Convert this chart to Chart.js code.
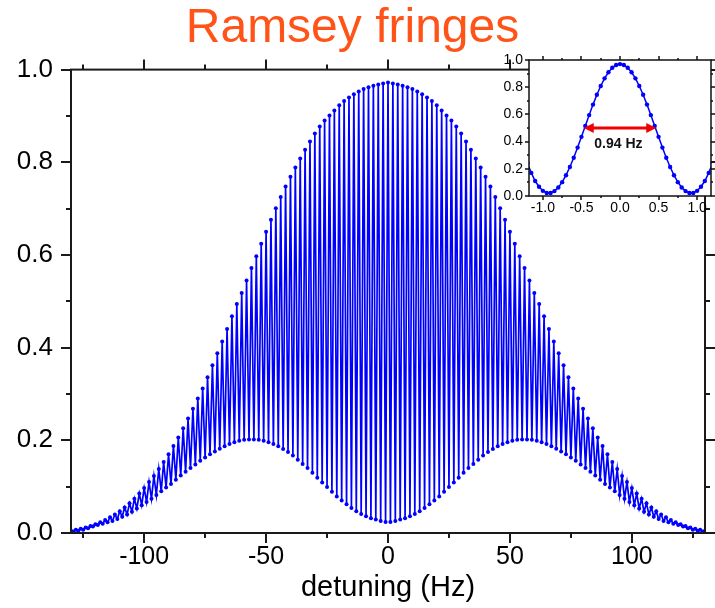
<!DOCTYPE html>
<html>
<head>
<meta charset="utf-8">
<title>Ramsey fringes</title>
<script src="https://cdn.jsdelivr.net/npm/chart.js@4.4.1/dist/chart.umd.min.js"></script>
<style>
  html, body { margin: 0; padding: 0; background: #fff; }
  #wrap { position: relative; width: 715px; height: 608px; }
  #main { position: absolute; left: 0; top: 0; }
  #inset { position: absolute; left: 490px; top: 45px; }
</style>
</head>
<body>
<div id="wrap">
  <canvas id="main" width="715" height="608"></canvas>
  <canvas id="inset" width="225" height="175"></canvas>
</div>
<script>
// main plot: fringe maxima every 2 Hz from -130 Hz, minima at the odd Hz in between
const peakStart = -130;
const peakLevels = [
  0.005, 0.007, 0.009, 0.012, 0.015, 0.019, 0.023, 0.028, 0.034, 0.040,
  0.047, 0.055, 0.064, 0.074, 0.085, 0.097, 0.110, 0.123, 0.138, 0.153,
  0.170, 0.188, 0.206, 0.226, 0.247, 0.268, 0.290, 0.312, 0.336, 0.362,
  0.388, 0.413, 0.440, 0.468, 0.494, 0.518, 0.545, 0.572, 0.597, 0.624,
  0.650, 0.676, 0.701, 0.725, 0.748, 0.769, 0.789, 0.808, 0.827, 0.845,
  0.862, 0.877, 0.890, 0.901, 0.912, 0.923, 0.932, 0.940, 0.947, 0.953,
  0.958, 0.962, 0.965, 0.968, 0.970,
  0.972,
  0.970, 0.968, 0.965, 0.962, 0.958, 0.953, 0.947, 0.940, 0.932, 0.923,
  0.912, 0.901, 0.890, 0.877, 0.862, 0.845, 0.827, 0.808, 0.789, 0.769,
  0.748, 0.725, 0.701, 0.676, 0.650, 0.624, 0.597, 0.572, 0.545, 0.518,
  0.494, 0.468, 0.440, 0.413, 0.388, 0.362, 0.336, 0.312, 0.290, 0.268,
  0.247, 0.226, 0.206, 0.188, 0.170, 0.153, 0.138, 0.123, 0.110, 0.097,
  0.085, 0.074, 0.064, 0.055, 0.047, 0.040, 0.034, 0.028, 0.023, 0.019,
  0.015, 0.012, 0.009, 0.007, 0.005
];
const troughLevels = [
  0.003, 0.005, 0.007, 0.010, 0.014, 0.017, 0.020, 0.023, 0.026, 0.030,
  0.035, 0.040, 0.046, 0.053, 0.060, 0.067, 0.074, 0.082, 0.090, 0.098,
  0.106, 0.115, 0.124, 0.132, 0.140, 0.148, 0.156, 0.163, 0.170, 0.176,
  0.182, 0.187, 0.192, 0.196, 0.199, 0.201, 0.202, 0.202, 0.201, 0.199,
  0.196, 0.192, 0.187, 0.181, 0.175, 0.167, 0.158, 0.149, 0.140, 0.130,
  0.119, 0.109, 0.099, 0.089, 0.079, 0.070, 0.062, 0.054, 0.047, 0.041,
  0.036, 0.032, 0.029, 0.026, 0.024,
  0.024, 0.026, 0.029, 0.032, 0.036, 0.041, 0.047, 0.054, 0.062, 0.070,
  0.079, 0.089, 0.099, 0.109, 0.119, 0.130, 0.140, 0.149, 0.158, 0.167,
  0.175, 0.181, 0.187, 0.192, 0.196, 0.199, 0.201, 0.202, 0.202, 0.201,
  0.199, 0.196, 0.192, 0.187, 0.182, 0.176, 0.170, 0.163, 0.156, 0.148,
  0.140, 0.132, 0.124, 0.115, 0.106, 0.098, 0.090, 0.082, 0.074, 0.067,
  0.060, 0.053, 0.046, 0.040, 0.035, 0.030, 0.026, 0.023, 0.020, 0.017,
  0.014, 0.010, 0.007, 0.005, 0.003
];
const xTicks = [-100, -50, 0, 50, 100];
const xMinorTicks = [-125, -75, -25, 25, 75, 125];
const yTicks = [0, 0.2, 0.4, 0.6, 0.8, 1.0];
const yMinorTicks = [0.1, 0.3, 0.5, 0.7, 0.9];

// inset: central fringe, one point every 0.05 Hz from -1.2 Hz
const insetStart = -1.2;
const insetLevels = [
  0.24, 0.17, 0.11, 0.068, 0.038, 0.022, 0.022, 0.036, 0.063, 0.102,
  0.153, 0.213, 0.281, 0.356, 0.435, 0.515, 0.595, 0.672, 0.744, 0.809,
  0.865, 0.910, 0.943, 0.963, 0.970, 0.963, 0.943, 0.910, 0.865, 0.809,
  0.744, 0.672, 0.595, 0.515, 0.435, 0.356, 0.281, 0.213, 0.153, 0.102,
  0.063, 0.036, 0.022, 0.022, 0.038, 0.068, 0.11, 0.17, 0.24
];
const insetXTicks = [-1, -0.5, 0, 0.5, 1];
const insetXMinor = [-0.75, -0.25, 0.25, 0.75];
const insetYTicks = [0, 0.2, 0.4, 0.6, 0.8, 1.0];
const insetYMinor = [0.1, 0.3, 0.5, 0.7, 0.9];
const fwhmEnds = [-0.47, 0.47];
const fwhmLevel = 0.5;
const fwhmLabel = '0.94 Hz';
const fwhmLabelAt = [-0.02, 0.38];

const blue = 'rgb(0,0,255)';
const font = '"Liberation Sans", Arial, Helvetica, sans-serif';

const fringePoints = [];
peakLevels.forEach((p, i) => {
  fringePoints.push({x: peakStart + 2 * i, y: p});
  if (i < troughLevels.length) fringePoints.push({x: peakStart + 2 * i + 1, y: troughLevels[i]});
});
const insetPoints = insetLevels.map((v, i) => ({x: +(insetStart + 0.05 * i).toFixed(2), y: v}));

// box round the plot, ticks pointing out on all four sides
const frameTicks = {
    id: 'frameTicks',
    afterDraw(chart, args, o) {
        const {ctx, chartArea: a, scales: {x, y}} = chart;
        ctx.save();
        ctx.strokeStyle = o.color;
        ctx.lineWidth = o.width;
        ctx.beginPath();
        const xt = (vals, len) => vals.forEach(v => {
            const px = Math.round(x.getPixelForValue(v));
            ctx.moveTo(px, a.bottom); ctx.lineTo(px, a.bottom + len);
            ctx.moveTo(px, a.top); ctx.lineTo(px, a.top - len);
        });
        const yt = (vals, len) => vals.forEach(v => {
            const py = Math.round(y.getPixelForValue(v));
            ctx.moveTo(a.left, py); ctx.lineTo(a.left - len, py);
            ctx.moveTo(a.right, py); ctx.lineTo(a.right + len, py);
        });
        xt(o.xMajor, o.major); xt(o.xMinor, o.minor);
        yt(o.yMajor, o.major); yt(o.yMinor, o.minor);
        ctx.stroke();
        ctx.strokeRect(a.left, a.top, a.right - a.left, a.bottom - a.top);
        ctx.restore();
    }
};

const whiteArea = {
    id: 'whiteArea',
    beforeDraw(chart) {
        const {ctx, chartArea: a} = chart;
        ctx.save();
        ctx.fillStyle = '#fff';
        ctx.fillRect(a.left, a.top, a.right - a.left, a.bottom - a.top);
        ctx.restore();
    }
};

const fwhmArrow = {
    id: 'fwhmArrow',
    afterDatasetsDraw(chart) {
        const {ctx, scales: {x, y}} = chart;
        const x0 = x.getPixelForValue(fwhmEnds[0]);
        const x1 = x.getPixelForValue(fwhmEnds[1]);
        const py = y.getPixelForValue(fwhmLevel);
        ctx.save();
        ctx.strokeStyle = 'rgb(240,0,0)';
        ctx.fillStyle = 'rgb(240,0,0)';
        ctx.lineWidth = 3;
        ctx.beginPath();
        ctx.moveTo(x0 + 6, py); ctx.lineTo(x1 - 6, py);
        ctx.stroke();
        ctx.beginPath();
        ctx.moveTo(x0, py); ctx.lineTo(x0 + 10, py - 5); ctx.lineTo(x0 + 10, py + 5); ctx.closePath();
        ctx.moveTo(x1, py); ctx.lineTo(x1 - 10, py - 5); ctx.lineTo(x1 - 10, py + 5); ctx.closePath();
        ctx.fill();
        ctx.fillStyle = '#111';
        ctx.font = 'bold 14px ' + font;
        ctx.textAlign = 'center';
        ctx.textBaseline = 'middle';
        ctx.fillText(fwhmLabel, x.getPixelForValue(fwhmLabelAt[0]), y.getPixelForValue(fwhmLabelAt[1]));
        ctx.restore();
    }
};

new Chart(document.getElementById('main'), {
    type: 'line',
    data: {
        datasets: [{
            data: fringePoints,
            borderColor: blue,
            backgroundColor: blue,
            borderWidth: 1.7,
            pointRadius: 2,
            pointBorderWidth: 0,
            tension: 0
        }]
    },
    options: {
        responsive: false,
        animation: false,
        devicePixelRatio: 1,
        layout: {padding: {left: 0, right: 10, top: 0, bottom: 0}},
        plugins: {
            legend: {display: false},
            tooltip: {enabled: false},
            title: {
                display: true,
                text: 'Ramsey fringes',
                color: '#FF5317',
                font: {family: font, size: 48, weight: 'normal'},
                padding: {top: 0, bottom: 12}
            },
            frameTicks: {
                color: '#1a1a1a', width: 2, major: 10, minor: 5,
                xMajor: xTicks, xMinor: xMinorTicks, yMajor: yTicks, yMinor: yMinorTicks
            }
        },
        scales: {
            x: {
                type: 'linear',
                min: -130,
                max: 130,
                grid: {display: false, drawTicks: false},
                border: {display: false},
                afterBuildTicks: s => { s.ticks = xTicks.map(v => ({value: v})); },
                afterFit: s => { s.height = 75; },
                ticks: {
                    color: '#000',
                    font: {family: font, size: 25},
                    padding: 9,
                    maxRotation: 0,
                    callback: v => String(v)
                },
                title: {
                    display: true,
                    text: 'detuning (Hz)',
                    color: '#000',
                    font: {family: font, size: 29},
                    padding: {top: 0, bottom: 3}
                }
            },
            y: {
                min: 0,
                max: 1,
                grid: {display: false, drawTicks: false},
                border: {display: false},
                afterBuildTicks: s => { s.ticks = yTicks.map(v => ({value: v})); },
                afterFit: s => { s.width = 71; },
                ticks: {
                    color: '#000',
                    font: {family: font, size: 26},
                    padding: 18,
                    callback: v => v.toFixed(1)
                }
            }
        }
    },
    plugins: [frameTicks]
});

new Chart(document.getElementById('inset'), {
    type: 'line',
    data: {
        datasets: [{
            data: insetPoints,
            borderColor: blue,
            backgroundColor: blue,
            borderWidth: 1.5,
            pointRadius: 2.2,
            pointBorderWidth: 0,
            tension: 0
        }]
    },
    options: {
        responsive: false,
        animation: false,
        devicePixelRatio: 1,
        layout: {padding: {left: 0, right: 2, top: 15, bottom: 0}},
        plugins: {
            legend: {display: false},
            tooltip: {enabled: false},
            frameTicks: {
                color: '#111', width: 1.5, major: 4, minor: 2,
                xMajor: insetXTicks, xMinor: insetXMinor, yMajor: insetYTicks, yMinor: insetYMinor
            }
        },
        scales: {
            x: {
                type: 'linear',
                min: -1.18,
                max: 1.18,
                grid: {display: false, drawTicks: false},
                border: {display: false},
                afterBuildTicks: s => { s.ticks = insetXTicks.map(v => ({value: v})); },
                afterFit: s => { s.height = 24; },
                ticks: {
                    color: '#000',
                    font: {family: font, size: 14},
                    padding: 4,
                    maxRotation: 0,
                    callback: v => v.toFixed(1)
                }
            },
            y: {
                min: 0,
                max: 1,
                grid: {display: false, drawTicks: false},
                border: {display: false},
                afterBuildTicks: s => { s.ticks = insetYTicks.map(v => ({value: v})); },
                afterFit: s => { s.width = 39; },
                ticks: {
                    color: '#000',
                    font: {family: font, size: 14},
                    padding: 6,
                    callback: v => v.toFixed(1)
                }
            }
        }
    },
    plugins: [whiteArea, fwhmArrow, frameTicks]
});
</script>
</body>
</html>
